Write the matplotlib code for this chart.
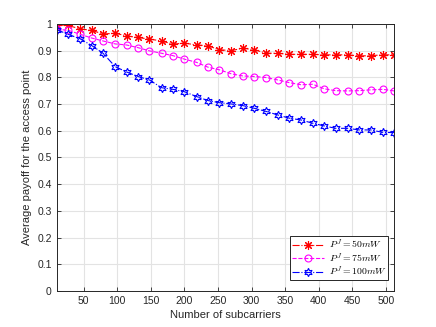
import numpy as np
import matplotlib
matplotlib.use("Agg")
import matplotlib.pyplot as plt

# number of subcarriers
subcarriers = [10, 27, 45, 62, 79, 97, 114, 131, 148, 166, 183, 200, 218, 235, 252,
               270, 287, 304, 322, 339, 356, 374, 391, 408, 425, 443, 460, 477, 495, 512]

payoff_50mw = [0.996, 0.994, 0.981, 0.976, 0.962, 0.965, 0.955, 0.949, 0.943, 0.936,
               0.924, 0.928, 0.921, 0.918, 0.903, 0.900, 0.909, 0.903, 0.890, 0.890,
               0.886, 0.886, 0.886, 0.884, 0.884, 0.884, 0.880, 0.881, 0.884, 0.884]

payoff_75mw = [0.980, 0.976, 0.961, 0.947, 0.936, 0.925, 0.921, 0.911, 0.899, 0.890,
               0.881, 0.868, 0.856, 0.838, 0.828, 0.813, 0.805, 0.803, 0.799, 0.790,
               0.780, 0.772, 0.774, 0.757, 0.750, 0.749, 0.750, 0.753, 0.755, 0.749]

payoff_100mw = [0.978, 0.961, 0.944, 0.919, 0.890, 0.840, 0.820, 0.803, 0.790, 0.761,
                0.755, 0.746, 0.728, 0.713, 0.705, 0.700, 0.694, 0.684, 0.672, 0.659,
                0.647, 0.640, 0.628, 0.618, 0.609, 0.609, 0.603, 0.603, 0.594, 0.593]

labels = [r'$P^J = 50mW$', r'$P^J = 75mW$', r'$P^J = 100mW$']

plt.rcParams['font.family'] = ['Liberation Sans', 'DejaVu Sans']
plt.rcParams['mathtext.fontset'] = 'cm'

fig = plt.figure(figsize=(4.36, 3.27), dpi=100)
ax = fig.add_axes([0.130, 0.110, 0.774, 0.817])

ax.plot(subcarriers, payoff_50mw, color='red', linestyle='-.', linewidth=0.8,
        marker=(8, 2, 0), markersize=6.5, markeredgewidth=0.8, label=labels[0])
ax.plot(subcarriers, payoff_75mw, color='magenta', linestyle='--', linewidth=0.8,
        marker='o', markersize=5, markerfacecolor='none', markeredgewidth=0.8, label=labels[1])
ax.plot(subcarriers, payoff_100mw, color='blue', linestyle='-.', linewidth=0.8,
        marker=(6, 1, 0), markersize=6, markerfacecolor='none', markeredgewidth=0.8, label=labels[2])

ax.set_xlim(10, 512)
ax.set_ylim(0, 1)
ax.set_xticks(np.arange(50, 501, 50))
ax.set_yticks(np.arange(0, 1.01, 0.1))
ax.set_yticklabels(['0', '0.1', '0.2', '0.3', '0.4', '0.5', '0.6', '0.7', '0.8', '0.9', '1'])
ax.grid(True, color='#e3e3e3', linewidth=0.8)
ax.set_axisbelow(True)
ax.tick_params(direction='in', top=True, right=True, labelsize=7.5, colors='#262626',
               length=3, width=0.6)
for s in ax.spines.values():
    s.set_color('#262626')
    s.set_linewidth(0.7)

ax.set_xlabel('Number of subcarriers', fontsize=8, color='#262626', labelpad=3)
ax.set_ylabel('Average payoff for the access point', fontsize=8, color='#262626', labelpad=4)

leg = ax.legend(loc='lower right', fontsize=7, frameon=True, fancybox=False,
                edgecolor='#262626', framealpha=1, borderpad=0.2, labelspacing=0.02,
                handlelength=3.3, handletextpad=0.5, borderaxespad=0,
                bbox_to_anchor=(0.983, 0.04))
leg.get_frame().set_linewidth(0.7)

fig.savefig('out.png', dpi=100)
